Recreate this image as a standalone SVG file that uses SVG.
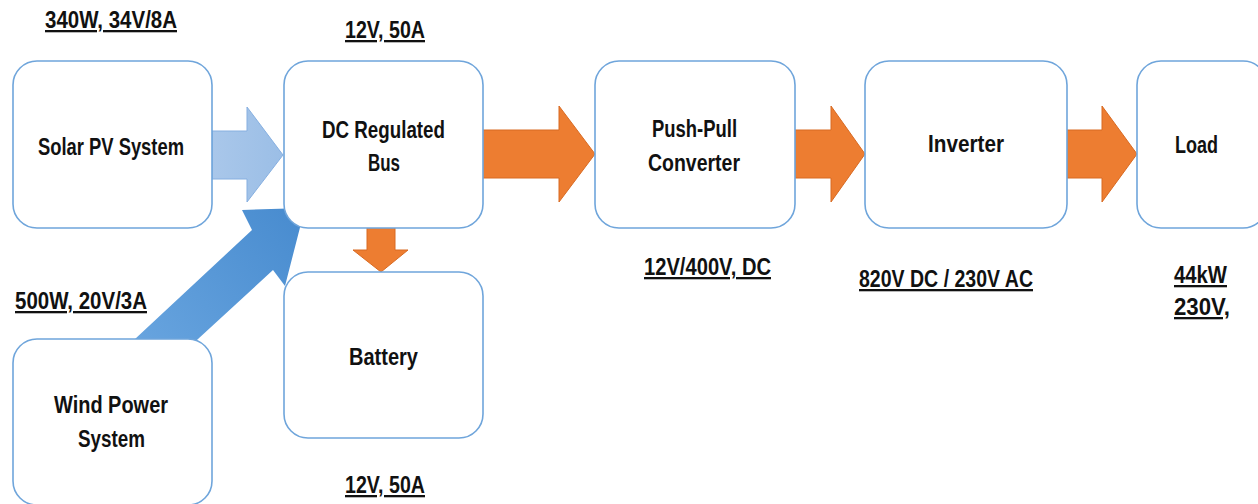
<svg xmlns="http://www.w3.org/2000/svg" width="1258" height="504" viewBox="0 0 1258 504">
  <style>
    .box { fill: #ffffff; stroke: #6fa5db; stroke-width: 1.6; }
    .lbl { font-family: "Liberation Sans", Arial, sans-serif; font-size: 23px; font-weight: bold; fill: #111; text-anchor: middle; }
    .note { font-family: "Liberation Sans", Arial, sans-serif; font-size: 23px; font-weight: bold; fill: #111; text-decoration: underline; }
    .orange { fill: #ed7d31; stroke: #d86a22; stroke-width: 1; }
    .light { fill: url(#lightBlue); stroke: #86afe0; stroke-width: 1; }
  </style>
  <defs>
    <linearGradient id="lightBlue" x1="0" y1="0" x2="1" y2="0">
      <stop offset="0" stop-color="#a9c7ea"/>
      <stop offset="1" stop-color="#9bbee6"/>
    </linearGradient>
    <linearGradient id="windBlue" gradientUnits="userSpaceOnUse" x1="130" y1="360" x2="290" y2="220">
      <stop offset="0" stop-color="#6aa6e0"/>
      <stop offset="1" stop-color="#4a8dd0"/>
    </linearGradient>
  </defs>
  <rect width="1258" height="504" fill="#ffffff"/>

  <!-- flow arrows, drawn beneath the blocks -->
  <g id="connectors">
    <polygon class="light" points="212,131 247,131 247,107 283,155 247,202 247,179 212,179"/>
    <polygon fill="url(#windBlue)" points="91,380 135,339 252,230 242,210 305,208 285,286 273,270 198,339 154,380"/>
    <polygon class="orange" points="478,130 559,130 559,106 595,154 559,202 559,178 478,178"/>
    <polygon class="orange" points="795,130 831,130 831,106 865,154 831,202 831,178 795,178"/>
    <polygon class="orange" points="1067,130 1102,130 1102,106 1137,154 1102,202 1102,178 1067,178"/>
    <polygon class="orange" points="367,224 395,224 395,250 408,250 381,272 353,250 367,250"/>
  </g>

  <g id="solar">
    <rect class="box" x="13" y="61" width="199" height="167" rx="24"/>
    <text class="lbl" x="111" y="155" textLength="146" lengthAdjust="spacingAndGlyphs">Solar PV System</text>
  </g>
  <g id="bus">
    <rect class="box" x="284" y="61" width="199" height="167" rx="24"/>
    <text class="lbl" x="383.5" y="138" textLength="123" lengthAdjust="spacingAndGlyphs">DC Regulated</text>
    <text class="lbl" x="384" y="171" textLength="32" lengthAdjust="spacingAndGlyphs">Bus</text>
  </g>
  <g id="battery">
    <rect class="box" x="284" y="272" width="199" height="166" rx="24"/>
    <text class="lbl" x="383.5" y="365" textLength="69" lengthAdjust="spacingAndGlyphs">Battery</text>
  </g>
  <g id="wind">
    <rect class="box" x="13" y="339" width="199" height="166" rx="24"/>
    <text class="lbl" x="111" y="413" textLength="114" lengthAdjust="spacingAndGlyphs">Wind Power</text>
    <text class="lbl" x="111.5" y="447" textLength="67" lengthAdjust="spacingAndGlyphs">System</text>
  </g>
  <g id="pushpull">
    <rect class="box" x="595" y="61" width="200" height="167" rx="24"/>
    <text class="lbl" x="694.5" y="137" textLength="85" lengthAdjust="spacingAndGlyphs">Push-Pull</text>
    <text class="lbl" x="694" y="171" textLength="92" lengthAdjust="spacingAndGlyphs">Converter</text>
  </g>
  <g id="inverter">
    <rect class="box" x="865" y="61" width="202" height="167" rx="24"/>
    <text class="lbl" x="966" y="152" textLength="76" lengthAdjust="spacingAndGlyphs">Inverter</text>
  </g>
  <g id="load">
    <rect class="box" x="1137" y="61" width="130" height="167" rx="24"/>
    <text class="lbl" x="1196.5" y="153" textLength="43" lengthAdjust="spacingAndGlyphs">Load</text>
  </g>

  <!-- ratings -->
  <g id="ratings">
    <text class="note" x="45" y="28" textLength="132" lengthAdjust="spacingAndGlyphs">340W, 34V/8A</text>
    <text class="note" x="345" y="38" textLength="80" lengthAdjust="spacingAndGlyphs">12V, 50A</text>
    <text class="note" x="15" y="309" textLength="132" lengthAdjust="spacingAndGlyphs">500W, 20V/3A</text>
    <text class="note" x="345" y="493" textLength="80" lengthAdjust="spacingAndGlyphs">12V, 50A</text>
    <text class="note" x="644" y="275" textLength="127" lengthAdjust="spacingAndGlyphs">12V/400V, DC</text>
    <text class="note" x="859" y="287" textLength="174" lengthAdjust="spacingAndGlyphs">820V DC / 230V AC</text>
    <text class="note" x="1174" y="283" textLength="53" lengthAdjust="spacingAndGlyphs">44kW</text>
    <text class="note" x="1174" y="315" textLength="56" lengthAdjust="spacingAndGlyphs">230V,</text>
  </g>
</svg>
